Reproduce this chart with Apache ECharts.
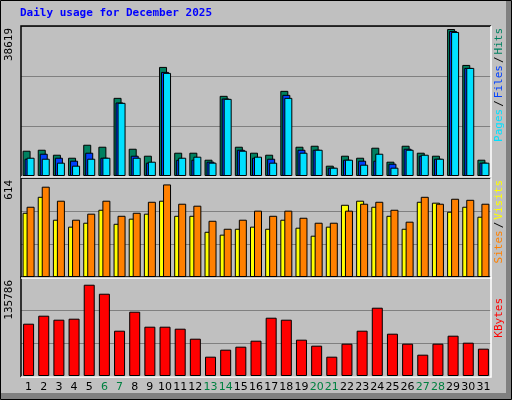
<!DOCTYPE html>
<html><head><meta charset="utf-8">
<script src="https://cdn.jsdelivr.net/npm/echarts@6/dist/echarts.min.js"></script>
<style>html,body{margin:0;padding:0;background:#c0c0c0}#c{width:512px;height:400px}</style>
</head><body><div id="c"></div>
<script>
const days = ['1','2','3','4','5','6','7','8','9','10','11','12','13','14','15','16','17','18','19','20','21','22','23','24','25','26','27','28','29','30','31'];
const weekend = ['6','7','13','14','20','21','27','28'];
const hits  = [6640,6900,5590,4800,8210,7690,20530,7160,5330,28660,6120,6120,4280,21060,7690,6120,5590,22370,7690,7950,2710,5330,4800,7430,3760,7950,6120,5330,38619,29180,4280];
const files = [4540,5850,4800,4020,6120,4800,19310,5330,3500,27350,4280,4280,3760,20360,6900,4800,4540,21320,6900,6900,2180,4280,4020,4020,3230,7160,5330,4540,38100,28400,3500];
const pages = [4800,4540,3500,2710,4540,4800,19220,4800,3760,27090,4800,5070,3500,20270,6640,5070,3500,20530,6120,6900,2180,4280,2970,5850,2180,6900,5590,4540,37840,28400,3500];
const sites = [426,532,380,334,360,446,353,387,420,506,406,406,300,281,320,334,320,380,327,274,334,479,506,466,406,320,499,493,433,466,400];
const visits= [466,599,506,380,420,506,406,426,499,614,486,473,373,320,380,440,406,440,393,360,360,440,486,499,446,367,532,486,519,512,486];
const kbytes= [77800,89700,83750,85240,135786,122400,67400,95650,73350,73350,70370,55500,28740,39150,43610,52530,86720,83750,54020,45100,28740,48070,67400,101590,62940,48070,31720,48070,59960,49560,40640];
const maxLabels = ['38619','614','135786'];

const chart = echarts.init(document.getElementById('c'));
const grids = [{left:21,right:21,top:26,height:150},{left:21,right:21,top:178,height:99},{left:21,right:21,top:277,height:99}];
const maxes = [38619/0.98, 614/0.935, 135786/0.922];
const edge = {lineStyle:{color:'#000',width:1}};
function xa(i){return {type:'category',gridIndex:i,data:days,axisTick:{show:false},axisLine:{show:false},
  axisLabel:{show:i===2,fontFamily:'DejaVu Sans',fontSize:11,margin:6,interval:0,color:(v)=>weekend.includes(v)?'#008040':'#000'}};}
function ya(i){return {type:'value',gridIndex:i,min:0,max:maxes[i],interval:maxes[i]/3,axisLabel:{show:false},axisLine:{show:false},axisTick:{show:false},
  splitLine:{lineStyle:{color:'#808080',width:1}}};}
const bs = {borderColor:'#000',borderWidth:1};
function bar(data,color,xi,w,gap){return {type:'bar',data,xAxisIndex:xi,yAxisIndex:xi,barWidth:w,barGap:gap,itemStyle:Object.assign({color},bs),animation:false,silent:true};}
const mono='DejaVu Sans Mono';
chart.setOption({
  backgroundColor:'#c0c0c0',
  grid:grids.map(g=>Object.assign({show:true,backgroundColor:'#c0c0c0',borderWidth:0},g)),
  xAxis:[xa(0),xa(1),xa(2)], yAxis:[ya(0),ya(1),ya(2)],
  series:[
    bar(hits,'#008060',0,8,'-75%'), bar(files,'#0040ff',0,8,'-75%'), bar(pages,'#00e0ff',0,8,'-75%'),
    bar(sites,'#ffff00',1,8,'-50%'), bar(visits,'#ff8000',1,8,'-50%'),
    bar(kbytes,'#ff0000',2,11,'0%')
  ],
  graphic:[
    {type:'rect',shape:{x:0.5,y:0.5,width:511,height:399},style:{fill:null,stroke:'#000',lineWidth:1},z:100},
    {type:'rect',shape:{x:1,y:393,width:510,height:6},style:{fill:'#808080'},z:1},
    {type:'rect',shape:{x:506,y:1,width:5,height:398},style:{fill:'#808080'},z:1},
    ...grids.map(g=>({type:'polyline',shape:{points:[[g.left,g.top+g.height+1],[g.left,g.top],[491,g.top]]},style:{stroke:'#000',fill:null,lineWidth:1.5},z:100})),
    ...grids.map(g=>({type:'polyline',shape:{points:[[g.left,g.top+g.height+1],[491,g.top+g.height+1],[491,g.top]]},style:{stroke:'#fff',fill:null,lineWidth:1.5},z:100})),
    {type:'text',left:20,top:8,style:{text:'Daily usage for December 2025',fill:'#0000ff',font:'bold 11px '+mono}},
    {type:'text',x:9,y:28,rotation:Math.PI/2,style:{text:maxLabels[0],fill:'#000',font:'11px '+mono,align:'right',verticalAlign:'middle'}},
    {type:'text',x:9,y:180,rotation:Math.PI/2,style:{text:maxLabels[1],fill:'#000',font:'11px '+mono,align:'right',verticalAlign:'middle'}},
    {type:'text',x:9,y:280,rotation:Math.PI/2,style:{text:maxLabels[2],fill:'#000',font:'11px '+mono,align:'right',verticalAlign:'middle'}},
    {type:'text',x:499,y:28,rotation:Math.PI/2,style:{text:'{a|Pages}{s|/}{b|Files}{s|/}{c|Hits}',align:'right',verticalAlign:'middle',font:'11px '+mono,
      rich:{a:{fill:'#00e0ff',font:'11px '+mono},b:{fill:'#0040ff',font:'11px '+mono},c:{fill:'#008060',font:'11px '+mono},s:{fill:'#000',font:'11px '+mono,padding:[0,2]}}}},
    {type:'text',x:499,y:180,rotation:Math.PI/2,style:{text:'{a|Sites}{s|/}{b|Visits}',align:'right',verticalAlign:'middle',font:'11px '+mono,
      rich:{a:{fill:'#ff8000',font:'11px '+mono},b:{fill:'#ffff00',font:'11px '+mono},s:{fill:'#000',font:'11px '+mono,padding:[0,2]}}}},
    {type:'text',x:499,y:298,rotation:Math.PI/2,style:{text:'KBytes',fill:'#ff0000',font:'11px '+mono,align:'right',verticalAlign:'middle'}}
  ]
});
</script></body></html>
